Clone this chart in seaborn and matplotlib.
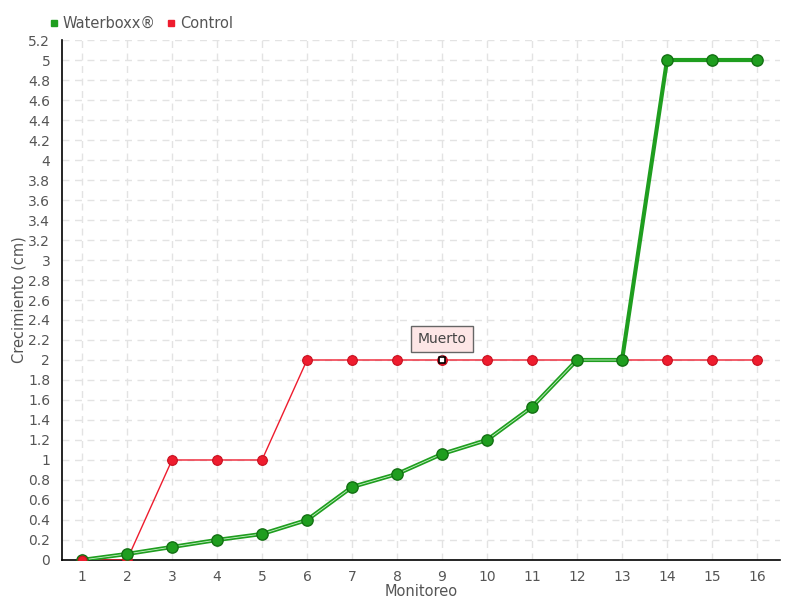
import matplotlib
matplotlib.use("Agg")
import matplotlib.pyplot as plt
import numpy as np
import seaborn as sns
import pandas as pd

monitoreo = list(range(1, 17))
waterboxx = [0.0, 0.06, 0.13, 0.20, 0.26, 0.40, 0.73, 0.86, 1.06, 1.20, 1.53, 2.0, 2.0, 5.0, 5.0, 5.0]
control = [0, 0, 1, 1, 1, 2, 2, 2, 2, 2, 2, 2, 2, 2, 2, 2]
muerto_idx = 8  # monitoreo 9

y_ticks = np.round(np.arange(0, 5.21, 0.2), 1)
y_labels = [("%g" % v) for v in y_ticks]

df = pd.DataFrame({"Monitoreo": monitoreo, "Waterboxx": waterboxx, "Control": control})

sns.set_style("white")
plt.rcParams['font.family'] = ['DejaVu Sans']

fig = plt.figure(figsize=(8, 6), dpi=100)
ax = fig.add_axes([0.0775, 0.0667, 0.8975, 0.8666])

green = "#1f9e1f"
red = "#ee1c2e"

sns.lineplot(data=df, x="Monitoreo", y="Control", ax=ax, color=red, linewidth=1,
             marker="o", markersize=7, markerfacecolor=red, markeredgecolor="#c8101f",
             markeredgewidth=0.8, zorder=3)
sns.lineplot(data=df, x="Monitoreo", y="Waterboxx", ax=ax, color=green, linewidth=3,
             zorder=4)
# pale inner line on the lower part
low = df.iloc[:13]
sns.lineplot(data=low, x="Monitoreo", y="Waterboxx", ax=ax, color="#c8f0c8", linewidth=0.6,
             zorder=4.5)
ax.scatter(df["Monitoreo"], df["Waterboxx"], s=66, color=green, edgecolor="#137013",
           linewidth=1, zorder=5)
# first control point sits on top
ax.scatter(df["Monitoreo"][:1], df["Control"][:1], s=40, color=red, edgecolor="#c8101f",
           linewidth=0.8, zorder=5.5)

# muerto marker
ax.scatter([monitoreo[muerto_idx]], [control[muerto_idx]], marker="s", s=22,
           facecolor="white", edgecolor="black", linewidth=1.2, zorder=6)
ax.annotate("Muerto", xy=(monitoreo[muerto_idx], control[muerto_idx] + 0.04),
            xytext=(monitoreo[muerto_idx], control[muerto_idx] + 0.21),
            ha="center", va="center", fontsize=10, color="#444444",
            bbox=dict(boxstyle="square,pad=0.45", fc="#fde6e6", ec="#666666", lw=1),
            arrowprops=dict(arrowstyle="-", color="#666666", lw=1), zorder=7)

ax.set_xlim(0.556, 16.51)
ax.set_ylim(0, 5.2)
ax.set_xticks(monitoreo)
ax.set_xticklabels([str(m) for m in monitoreo])
ax.set_yticks(y_ticks)
ax.set_yticklabels(y_labels)

ax.grid(True, linestyle=(0, (5, 4)), color="#e3e3e3", linewidth=1)
ax.set_axisbelow(True)
for s in ["top", "right"]:
    ax.spines[s].set_visible(False)
for s in ["left", "bottom"]:
    ax.spines[s].set_color("black")
    ax.spines[s].set_linewidth(1.2)

ax.tick_params(axis="both", which="both", direction="out", length=5, width=1,
               colors="black", labelcolor="#555555", labelsize=10)
ax.tick_params(axis="x", pad=2)

ax.set_xlabel("Monitoreo", fontsize=10.5, color="#555555", labelpad=0)
ax.set_ylabel("Crecimiento (cm)", fontsize=10.5, color="#555555", labelpad=1)

# legend
handles = [plt.Line2D([], [], marker="s", linestyle="", color=green, markersize=5),
           plt.Line2D([], [], marker="s", linestyle="", color=red, markersize=5)]
fig.legend(handles, ["Waterboxx®", "Control"], loc="upper left", bbox_to_anchor=(0.045, 0.995),
           ncol=2, frameon=False, handlelength=0.6, handletextpad=0.3, columnspacing=0.8,
           prop={"size": 10.5}, labelcolor="#555555")

fig.savefig("out.png", dpi=100)
